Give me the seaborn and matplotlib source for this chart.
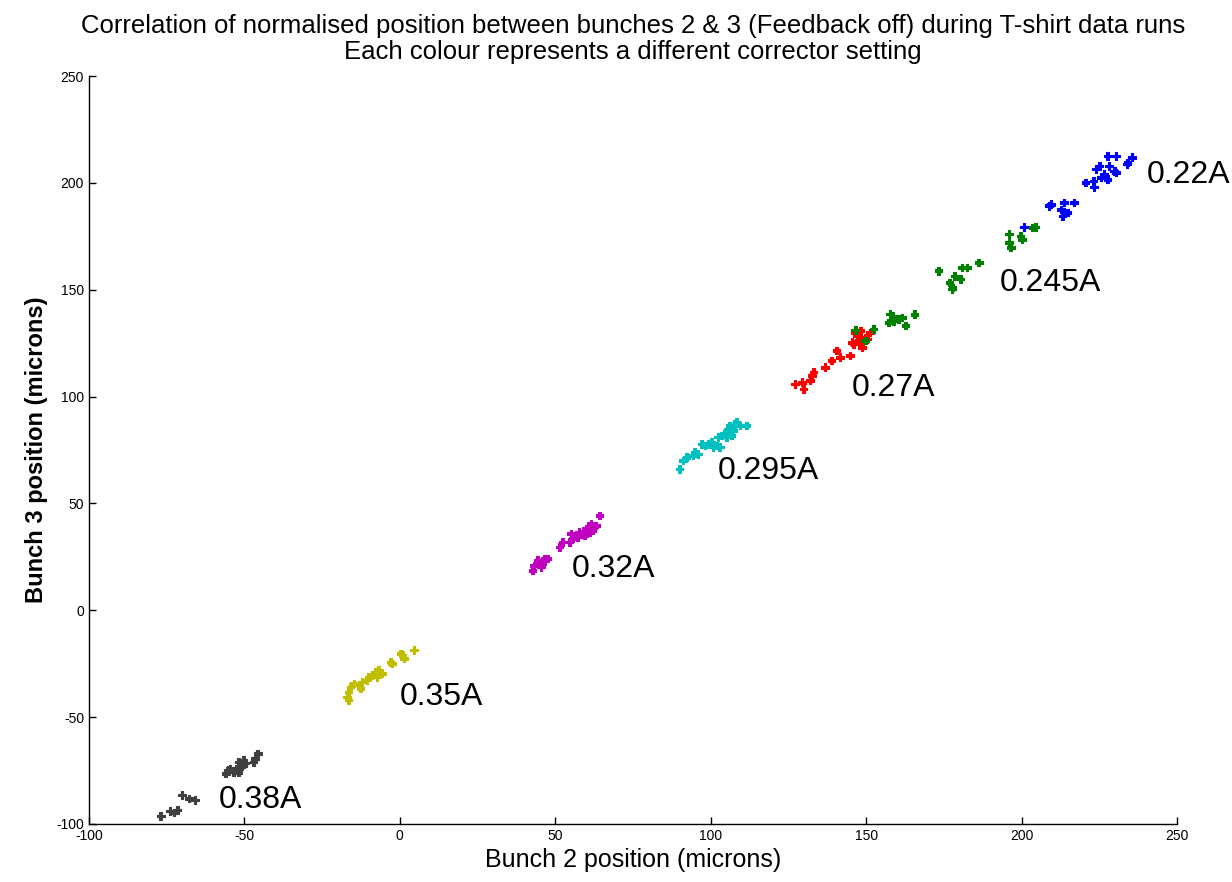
import numpy as np
import pandas as pd
import matplotlib
matplotlib.use("Agg")
import matplotlib.pyplot as plt
import seaborn as sns

# corrector settings and their colours
settings = ["0.38A", "0.35A", "0.32A", "0.295A", "0.27A", "0.245A", "0.22A"]
colours = ["#404040", "#bfbf00", "#bf00bf", "#00bfbf", "#ff0000", "#008000", "#0000ff"]

# bunch 2 / bunch 3 positions (microns)
b2_038 = [-76.9, -74.0, -71.5, -72.6, -70.0, -67.8, -65.9, -56.0, -55.2, -52.5, -51.9, -50.3,
          -50.9, -51.9, -46.5, -45.7, -47.1, -53.5, -49.6, -54.6]
b3_038 = [-96.3, -94.0, -93.5, -94.7, -86.4, -88.0, -88.8, -76.3, -74.8, -74.4, -70.9, -70.1,
          -73.2, -76.0, -69.3, -67.0, -70.9, -75.6, -71.5, -74.0]

b2_035 = [-17.0, -16.5, -15.9, -14.8, -13.2, -12.7, -12.2, -10.5, -10.0, -8.9, -7.8, -6.8,
          -5.7, -7.3, -3.0, -2.5, 0.2, 1.3, 4.5, 0.8, -16.5]
b3_035 = [-40.5, -38.2, -35.8, -34.3, -35.0, -36.6, -33.5, -32.7, -31.2, -30.4, -28.8, -28.0,
          -29.6, -31.2, -24.1, -24.9, -20.2, -22.6, -18.7, -21.0, -42.0]

b2_032 = [42.7, 43.2, 44.3, 45.4, 45.9, 47.5, 46.5, 51.3, 52.4, 54.5, 55.1, 55.6, 57.2,
          57.7, 58.8, 59.9, 60.4, 61.0, 61.5, 62.0, 62.6, 63.1, 64.2, 61.2, 59.4]
b3_032 = [18.7, 21.0, 23.4, 20.2, 21.8, 24.2, 24.2, 29.6, 31.9, 31.9, 35.8, 33.5, 34.3,
          36.6, 35.8, 38.2, 36.6, 39.0, 40.5, 37.4, 39.0, 39.7, 44.4, 36.6, 35.0]

b2_0295 = [90.0, 91.1, 92.2, 94.3, 94.8, 95.9, 97.0, 98.1, 99.1, 100.2, 100.7, 101.8, 102.9,
           102.4, 103.5, 104.5, 105.1, 105.6, 106.1, 106.7, 107.7, 108.3, 109.4, 111.5, 107.2]
b3_0295 = [66.2, 70.1, 71.6, 72.4, 74.0, 73.2, 77.9, 77.1, 77.9, 78.6, 76.3, 77.1, 76.3,
           81.0, 81.8, 82.6, 81.0, 84.9, 86.4, 81.8, 87.2, 88.0, 86.4, 86.4, 84.1]

b2_027 = [127.1, 129.3, 129.8, 131.9, 132.5, 133.0, 136.8, 138.9, 140.5, 141.6, 144.8, 145.4,
          146.5, 148.1, 147.5, 148.6, 148.1, 147.0, 149.7, 151.3, 150.2, 145.9]
b3_027 = [105.9, 106.7, 103.6, 107.5, 109.8, 111.4, 113.7, 116.8, 121.5, 118.4, 119.2, 125.4,
          130.0, 130.8, 126.2, 123.0, 124.6, 128.5, 127.7, 130.0, 127.0, 124.6]

b2_0245 = [146.5, 152.4, 149.7, 157.7, 157.2, 158.8, 160.4, 158.5, 162.6, 161.5, 165.5,
           173.3, 176.8, 177.8, 178.4, 180.3, 180.9, 182.5, 186.2, 177.6,
           195.9, 195.9, 196.5, 199.7, 200.2, 203.5, 204.5]
b3_0245 = [131.2, 131.6, 126.2, 138.6, 134.7, 135.5, 136.3, 137.7, 133.2, 137.0, 138.5,
           158.9, 153.4, 151.1, 156.5, 155.0, 160.4, 160.4, 162.8, 150.3,
           176.0, 172.1, 169.8, 175.2, 173.6, 179.1, 179.4]

b2_022 = [200.7, 208.8, 209.4, 212.6, 213.1, 214.7, 213.6, 216.9, 220.6, 223.1, 223.3, 223.9,
          225.0, 225.5, 226.5, 227.6, 228.1, 227.6, 230.3, 229.8, 230.3, 234.1, 233.9, 235.5]
b3_022 = [179.4, 189.3, 190.0, 187.6, 184.6, 186.2, 190.8, 190.8, 200.1, 200.9, 198.0, 206.5,
          208.0, 202.5, 204.2, 201.7, 207.9, 212.6, 212.6, 205.6, 204.9, 209.5, 208.8, 212.0]

# label anchor for each setting (left edge, middle)
label_x = [-58.4, 0.0, 55.2, 102.3, 145.5, 192.9, 240.3]
label_y = [-88.8, -40.7, 19.2, 65.4, 104.2, 153.3, 203.7]

groups = [(b2_038, b3_038), (b2_035, b3_035), (b2_032, b3_032), (b2_0295, b3_0295),
          (b2_027, b3_027), (b2_0245, b3_0245), (b2_022, b3_022)]
rows = []
for name, (xs, ys) in zip(settings, groups):
    for x, y in zip(xs, ys):
        rows.append({"bunch2": x, "bunch3": y, "setting": name})
df = pd.DataFrame(rows)

sns.set_style("white")
plt.rcParams["font.family"] = ["Liberation Sans", "DejaVu Sans"]
plt.rcParams["text.color"] = "black"
plt.rcParams["axes.labelcolor"] = "black"
plt.rcParams["axes.unicode_minus"] = False

fig = plt.figure(figsize=(12.32, 8.82), dpi=100)
ax = fig.add_axes([0.0722, 0.0658, 0.8832, 0.848])

sns.scatterplot(data=df, x="bunch2", y="bunch3", hue="setting", hue_order=settings,
                palette=colours, marker="P", s=30, linewidth=0.8, legend=False, ax=ax)
# edge in the same colour as the face to fatten the markers
for coll in ax.collections:
    coll.set_edgecolor(coll.get_facecolor())

for name, lx, ly in zip(settings, label_x, label_y):
    ax.text(lx, ly, name, fontsize=23, ha="left", va="center", color="black")

ax.set_xlim(-100, 250)
ax.set_ylim(-100, 250)
ax.set_xticks(range(-100, 251, 50))
ax.set_yticks(range(-100, 251, 50))
ax.tick_params(direction="in", length=5, labelsize=10, width=1, colors="black",
               left=True, bottom=True)
sns.despine(ax=ax)
for sp in ["left", "bottom"]:
    ax.spines[sp].set_color("black")
    ax.spines[sp].set_linewidth(1)

ax.set_xlabel("Bunch 2 position (microns)", fontsize=18, labelpad=4)
ax.set_ylabel("Bunch 3 position (microns)", fontsize=17, fontweight="bold", labelpad=6)
ax.set_title("Correlation of normalised position between bunches 2 & 3 (Feedback off) during T-shirt data runs\n"
             "Each colour represents a different corrector setting", fontsize=18.5, pad=12,
             linespacing=1.15)

fig.savefig("out.png", dpi=100)
